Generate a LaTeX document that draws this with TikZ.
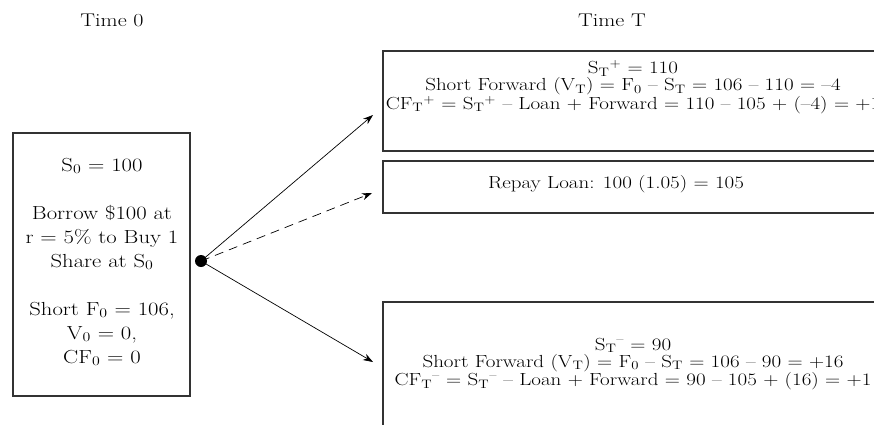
\documentclass[tikz,border=0pt]{standalone}
\usepackage{fontspec}
\setmainfont{Latin Modern Roman}[FakeStretch=1.2]
\usetikzlibrary{arrows.meta}
\newcommand{\sub}[1]{\textsubscript{#1}}
\newcommand{\sups}[1]{\textsuperscript{#1}}
\begin{document}
\begin{tikzpicture}[x=1pt,y=-1pt,
  box/.style={draw=black!80, line width=1.1pt},
  ttxt/.style={font=\fontsize{18.4}{20}\selectfont, inner sep=0pt},
  txt/.style={font=\fontsize{17.5}{17}\selectfont, align=center, inner sep=0pt},
  ltxt/.style={font=\fontsize{18.9}{24}\selectfont, align=center, inner sep=0pt},
  arr/.style={-{Stealth[length=10pt,width=7pt]}, line width=0.7pt}]
\useasboundingbox (0,0) rectangle (874,424);
\clip (0,0) rectangle (874,424);
\node[ttxt] (t0) at (112,20) {Time 0};
\node[ttxt] (tT) at (612,20) {Time T};
% left box
\draw[box] (13,133) rectangle (190,396);
\node[ltxt] (left) at (102,262) {S\sub{0} = 100\\ \\Borrow \$100 at\\r = 5\% to Buy 1\\Share at S\sub{0}\\ \\Short F\sub{0} = 106,\\V\sub{0} = 0,\\CF\sub{0} = 0};
% right boxes
\draw[box] (383,51) rectangle (900,151);
\draw[box] (383,161) rectangle (900,213);
\draw[box] (383,302) rectangle (900,440);
\node[txt] (up) at (633,87) {S\sub{T}\sups{+} = 110\\Short Forward (V\sub{T}) = F\sub{0} -- S\sub{T} = 106 -- 110 = --4\\CF\sub{T}\sups{+} = S\sub{T}\sups{+} -- Loan + Forward = 110 -- 105 + (--4) = +1};
\node[txt] (loan) at (616,184) {Repay Loan: 100 (1.05) = 105};
\node[txt] (down) at (633,364) {S\sub{T}\sups{--} = 90\\Short Forward (V\sub{T}) = F\sub{0} -- S\sub{T} = 106 -- 90 = +16\\CF\sub{T}\sups{--} = S\sub{T}\sups{--} -- Loan + Forward = 90 -- 105 + (16) = +1};
% dot and arrows
\node[circle, fill=black, inner sep=0pt, minimum size=12pt] (dot) at (201,261) {};
\coordinate (eu) at (373,115);
\coordinate (em) at (372,193);
\coordinate (ed) at (373,362);
\draw[arr] (dot.center) -- (eu);
\draw[arr, dash pattern=on 9pt off 6pt] (dot.center) -- (em);
\draw[arr] (dot.center) -- (ed);
\end{tikzpicture}
\end{document}
